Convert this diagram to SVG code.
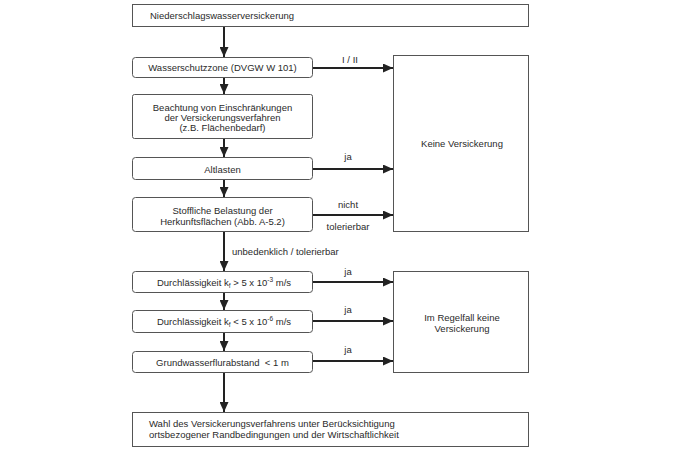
<svg xmlns="http://www.w3.org/2000/svg" width="679" height="462" viewBox="0 0 679 462">
<style>
.box{fill:#fff;stroke:#555;stroke-width:1}
.t{font-family:"Liberation Sans",Arial,sans-serif;font-size:9.5px;fill:#2a2a2a}
.c{text-anchor:middle}
.ln{stroke:#222;stroke-width:2;fill:none}
</style>
<defs>
<marker id="ah" markerWidth="10" markerHeight="9" refX="10" refY="4.5" orient="auto" markerUnits="userSpaceOnUse">
<path d="M0,0 L10,4.5 L0,9 Z" fill="#222"/>
</marker>
</defs>
<rect width="679" height="462" fill="#fff"/>
<g id="connectors">
<line class="ln" x1="224" y1="27" x2="224" y2="57" marker-end="url(#ah)"/>
<line class="ln" x1="224" y1="78" x2="224" y2="94" marker-end="url(#ah)"/>
<line class="ln" x1="224" y1="139" x2="224" y2="157" marker-end="url(#ah)"/>
<line class="ln" x1="224" y1="180" x2="224" y2="197" marker-end="url(#ah)"/>
<line class="ln" x1="224" y1="232" x2="224" y2="271" marker-end="url(#ah)"/>
<line class="ln" x1="224" y1="293" x2="224" y2="310" marker-end="url(#ah)"/>
<line class="ln" x1="224" y1="333" x2="224" y2="351" marker-end="url(#ah)"/>
<line class="ln" x1="224" y1="373" x2="224" y2="412" marker-end="url(#ah)"/>
<line class="ln" x1="313" y1="68" x2="393" y2="68" marker-end="url(#ah)"/>
<line class="ln" x1="313" y1="169" x2="393" y2="169" marker-end="url(#ah)"/>
<line class="ln" x1="313" y1="215" x2="393" y2="215" marker-end="url(#ah)"/>
<line class="ln" x1="313" y1="282" x2="393" y2="282" marker-end="url(#ah)"/>
<line class="ln" x1="313" y1="321" x2="393" y2="321" marker-end="url(#ah)"/>
<line class="ln" x1="313" y1="361" x2="393" y2="361" marker-end="url(#ah)"/>
<text class="t c" x="350" y="63">I / II</text>
<text class="t c" x="348" y="160">ja</text>
<text class="t c" x="348" y="208">nicht</text>
<text class="t c" x="348" y="230">tolerierbar</text>
<text class="t" x="232" y="255">unbedenklich / tolerierbar</text>
<text class="t c" x="348" y="275">ja</text>
<text class="t c" x="348" y="313">ja</text>
<text class="t c" x="348" y="353">ja</text>
</g>
<g id="n1"><rect class="box" x="132.5" y="4.5" width="396" height="22"/><text class="t" x="150" y="18.5">Niederschlagswasserversickerung</text></g>
<g id="n2"><rect class="box" x="132.5" y="57.5" width="180" height="20" rx="3"/><text class="t c" x="222.5" y="71">Wasserschutzzone (DVGW W 101)</text></g>
<g id="n3"><rect class="box" x="132.5" y="94.5" width="180" height="44" rx="2"/><text class="t c" x="222.5" y="110.5">Beachtung von Einschränkungen</text><text class="t c" x="222.5" y="120.5">der Versickerungsverfahren</text><text class="t c" x="222.5" y="130.5">(z.B. Flächenbedarf)</text></g>
<g id="n4"><rect class="box" x="132.5" y="157.5" width="180" height="22" rx="3"/><text class="t c" x="222.5" y="172.5">Altlasten</text></g>
<g id="n5"><rect class="box" x="132.5" y="197.5" width="180" height="34" rx="3"/><text class="t c" x="222.5" y="213.5">Stoffliche Belastung der</text><text class="t c" x="222.5" y="225">Herkunftsflächen (Abb. A-5.2)</text></g>
<g id="n6"><rect class="box" x="393.5" y="55.5" width="135" height="176"/><text class="t c" x="462" y="146.5">Keine Versickerung</text></g>
<g id="n7"><rect class="box" x="132.5" y="271.5" width="180" height="21" rx="3"/><text class="t c" x="224" y="285.5">Durchlässigkeit k<tspan font-size="6.5" dy="2">f</tspan><tspan dy="-2"> &gt; 5 x 10</tspan><tspan font-size="6.5" dy="-4">-3</tspan><tspan dy="4"> m/s</tspan></text></g>
<g id="n8"><rect class="box" x="132.5" y="310.5" width="180" height="22" rx="3"/><text class="t c" x="224" y="324.5">Durchlässigkeit k<tspan font-size="6.5" dy="2">f</tspan><tspan dy="-2"> &lt; 5 x 10</tspan><tspan font-size="6.5" dy="-4">-6</tspan><tspan dy="4"> m/s</tspan></text></g>
<g id="n9"><rect class="box" x="132.5" y="351.5" width="180" height="21" rx="3"/><text class="t c" x="222.5" y="365.5">Grundwasserflurabstand&#160; &lt; 1 m</text></g>
<g id="n10"><rect class="box" x="393.5" y="271.5" width="135" height="101"/><text class="t c" x="462" y="320.5">Im Regelfall keine</text><text class="t c" x="462" y="331.5">Versickerung</text></g>
<g id="n11"><rect class="box" x="132.5" y="412.5" width="396" height="34"/><text class="t" x="149" y="426.5">Wahl des Versickerungsverfahrens unter Berücksichtigung</text><text class="t" x="149" y="437.5">ortsbezogener Randbedingungen und der Wirtschaftlichkeit</text></g>
</svg>
